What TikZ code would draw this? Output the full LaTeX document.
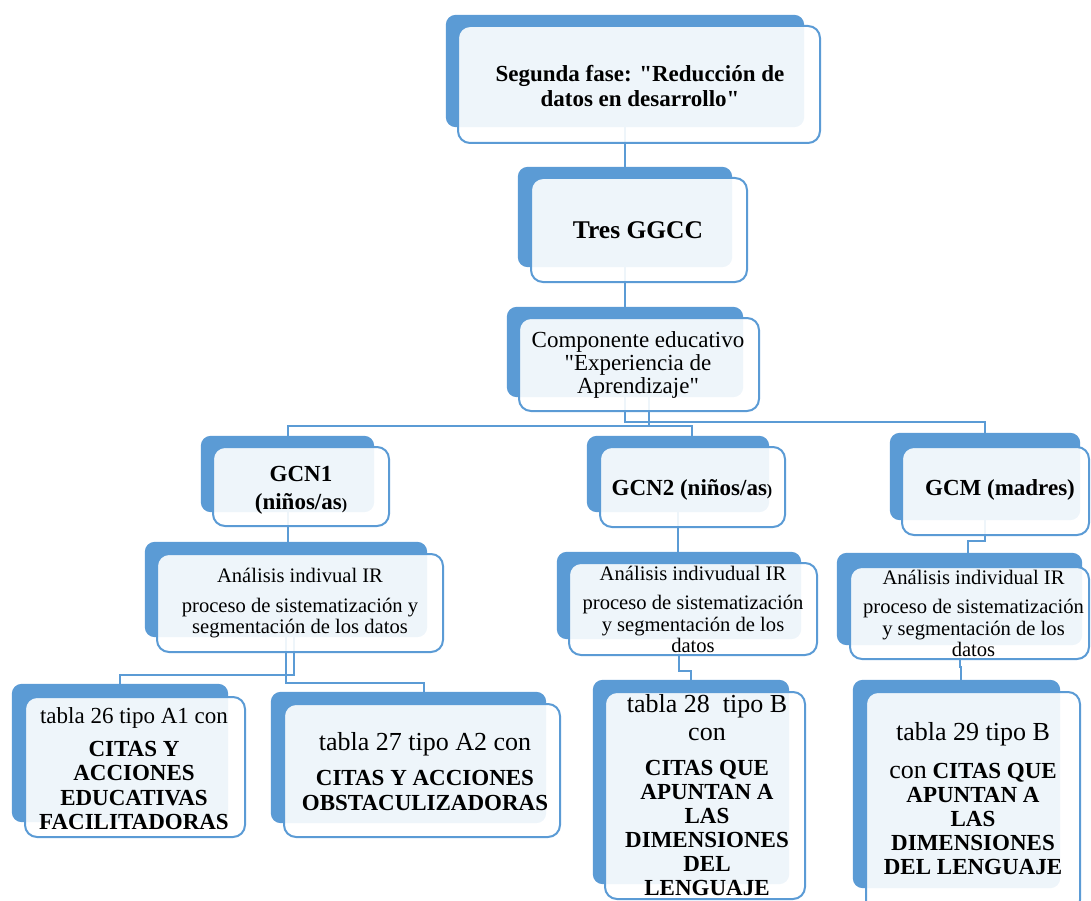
\documentclass[tikz,border=0pt]{standalone}
\usepackage{fontspec}
\setmainfont{Liberation Serif}[Ligatures=TeXOff]
\usetikzlibrary{calc,fit}
\definecolor{accent}{RGB}{91,155,213}
\newcommand\fsz[2]{\fontsize{#1}{#2}\selectfont}
\tikzset{
  plate/.style={draw=none, fill=accent, rounded corners=10pt, inner sep=0pt},
  front/.style={draw=accent, line width=2pt, fill=white, fill opacity=0.9, rounded corners=12pt, inner sep=0pt},
  conn/.style={draw=accent, line width=2pt},
  lbl/.style={inner sep=0pt, align=center, text=black},
}
\begin{document}
\begin{tikzpicture}[x=1pt, y=-1pt]
\useasboundingbox (0,0) rectangle (1091,901);

% junction points of the elbow connectors
\coordinate (ja) at (800,422);
\coordinate (jb) at (649,426);
\coordinate (jc) at (692,470);
\coordinate (jd) at (968,541);
\coordinate (je) at (294,675);
\coordinate (jf) at (424,683);
\coordinate (jg) at (691,671);
\coordinate (jh) at (961,667);

% plate outlines, declared first so that the connectors can refer to them
\path
  node[fit={(446,15) (804,127)}, inner sep=0pt] (b1) {}
  node[fit={(518,167) (732,267)}, inner sep=0pt] (b2) {}
  node[fit={(507,307) (743,397)}, inner sep=0pt] (b3) {}
  node[fit={(201,436) (374,512)}, inner sep=0pt] (b4) {}
  node[fit={(587,436) (769,512)}, inner sep=0pt] (b5) {}
  node[fit={(890,433) (1080,520)}, inner sep=0pt] (b6) {}
  node[fit={(145,542) (427,637)}, inner sep=0pt] (b7) {}
  node[fit={(557,552) (801,639)}, inner sep=0pt] (b8) {}
  node[fit={(837,553) (1082,645)}, inner sep=0pt] (b9) {}
  node[fit={(12,684) (228,822)}, inner sep=0pt] (b10) {}
  node[fit={(271,692) (546,823)}, inner sep=0pt] (b11) {}
  node[fit={(593,680) (789,884)}, inner sep=0pt] (b12) {}
  node[fit={(853,680) (1060,888)}, inner sep=0pt] (b13) {};

% connectors, drawn under the plates
\draw[conn] (b1.center) -- (b2.center);
\draw[conn] (b2.center) -- (b3.center);
\draw[conn] (b3.center) |- (ja) -| (b6.center);
\draw[conn] ($(b3.center)+(24,0)$) -- (jb);
\draw[conn] (b4.center) |- (jb) -| (jc);
\draw[conn] (b4.center) -- (b4.center |- b7.center);
\draw[conn] (b5.center) -- (b5.center |- b8.center);
\draw[conn] (b6.center) |- (jd) -- (jd |- b9.center);
\draw[conn] ($(b7.center)+(8,0)$) |- (je) -| (b10.center);
\draw[conn] (b7.center) |- (jf) -- (jf |- b11.center);
\draw[conn] (b8.center) |- (jg) -- (jg |- b12.center);
\draw[conn] (b9.center) |- (jh) -- (jh |- b13.center);

% dark blue plates
\foreach \n in {1,...,13} {
  \fill[accent, rounded corners=10pt] (b\n.north west) rectangle (b\n.south east);
}

% translucent front frames
\node[front, fit={(458,26) (820,143)}] (f1) {};
\node[front, fit={(531,178) (747,282)}] (f2) {};
\node[front, fit={(519,318) (759,411)}] (f3) {};
\node[front, fit={(213,447) (389,526)}] (f4) {};
\node[front, fit={(600,447) (785,527)}] (f5) {};
\node[front, fit={(902,447) (1089,535)}] (f6) {};
\node[front, fit={(157,554) (443,652)}] (f7) {};
\node[front, fit={(569,563) (817,655)}] (f8) {};
\node[front, fit={(850,567) (1089,659)}] (f9) {};
\node[front, fit={(25,697) (245,837)}] (f10) {};
\node[front, fit={(284,704) (560,837)}] (f11) {};
\node[front, fit={(605,692) (805,899)}] (f12) {};
\node[front, fit={(866,692) (1080,912)}] (f13) {};

% labels
\node[lbl, font=\bfseries\fsz{23}{25}] (t1) at (640,86)
  {Segunda fase: "Reducción de\\datos en desarrollo"};
\node[lbl, font=\bfseries\fsz{25.5}{28}] (t2) at (638,230) {Tres GGCC};
\node[lbl, font=\fsz{23}{23}] (t3) at (638,365)
  {Componente educativo\\"Experiencia de\\Aprendizaje"};
\node[lbl, font=\bfseries\fsz{23}{28}] (t4) at (301,490)
  {GCN1\\(niños/as{\fsz{16}{16})}};
\node[lbl, font=\bfseries\fsz{23}{28}] (t5) at (692,490)
  {GCN2 (niños/as{\fsz{16}{16})}};
\node[lbl, font=\bfseries\fsz{23}{28}] (t6) at (1000,490) {GCM (madres)};
\node[lbl, font=\fsz{20.6}{21}] (t7) at (300,603)
  {Análisis indivual IR\\[9pt]proceso de sistematización y\\segmentación de los datos};
\node[lbl, font=\fsz{20.6}{21.5}] (t8) at (693,609.5)
  {Análisis indivudual IR\\[8pt]proceso de sistematización\\y segmentación de los\\datos};
\node[lbl, font=\fsz{20.6}{21.5}] (t9) at (973.5,613.5)
  {Análisis individual IR\\[8pt]proceso de sistematización\\y segmentación de los\\datos};
\node[lbl, font=\fsz{23}{24.5}] (t10) at (134,768.5)
  {tabla 26 tipo A1 con\\[8.5pt]\textbf{CITAS Y}\\\textbf{ACCIONES}\\\textbf{EDUCATIVAS}\\\textbf{FACILITADORAS}};
\node[lbl, font=\fsz{23}{25}] (t11) at (425,772)
  {{\fsz{26}{26}tabla 27 tipo A2 con}\\[10pt]\textbf{CITAS Y ACCIONES}\\\textbf{OBSTACULIZADORAS}};
\node[lbl, font=\fsz{23}{24}] (t12) at (707,795.5)
  {{\fsz{26}{26}tabla 28~ tipo B}\\[4pt]{\fsz{26}{26}con}\\[11pt]\textbf{CITAS QUE}\\\textbf{APUNTAN A}\\\textbf{LAS}\\\textbf{DIMENSIONES}\\\textbf{DEL}\\\textbf{LENGUAJE}};
\node[lbl, font=\fsz{23}{24}] (t13) at (973,798.5)
  {{\fsz{26}{26}tabla 29 tipo B}\\[14pt]{\fsz{26}{26}con} \textbf{CITAS QUE}\\\textbf{APUNTAN A}\\\textbf{LAS}\\\textbf{DIMENSIONES}\\\textbf{DEL LENGUAJE}};
\end{tikzpicture}
\end{document}
